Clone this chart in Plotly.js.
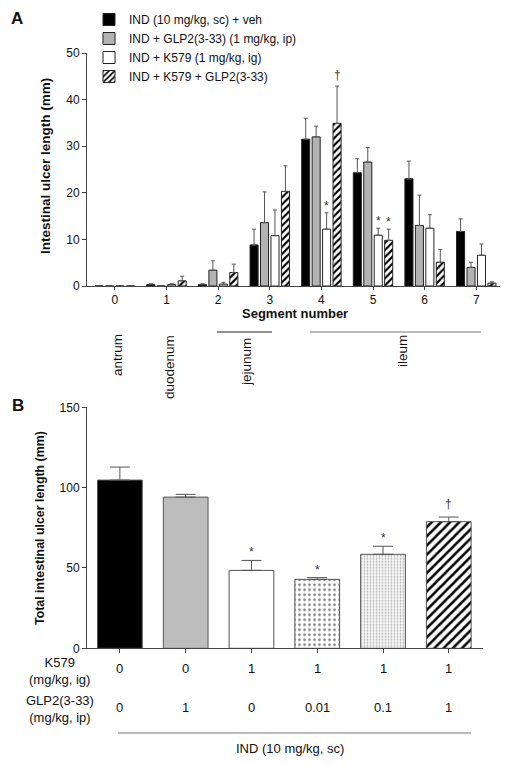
<!DOCTYPE html>
<html>
<head>
<meta charset="utf-8">
<script src="https://cdn.plot.ly/plotly-3.0.1.min.js"></script>
<style>html,body{margin:0;padding:0;background:#fff;}#chart{width:512px;height:766px;}</style>
</head>
<body>
<div id="chart"></div>
<script>
// ---------- Panel A data ----------
const segments = [0, 1, 2, 3, 4, 5, 6, 7];
const seriesNames = ['IND (10 mg/kg, sc) + veh', 'IND + GLP2(3-33) (1 mg/kg, ip)', 'IND + K579 (1 mg/kg, ig)', 'IND + K579 + GLP2(3-33)'];
const indVeh      = [0, 0.3, 0.3, 8.8, 31.5, 24.3, 23.0, 11.7];
const indVehErr   = [0, 0.2, 0.2, 3.4, 4.5, 3.0, 3.8, 2.7];
const indGlp      = [0, 0, 3.4, 13.6, 32.0, 26.6, 13.0, 4.0];
const indGlpErr   = [0, 0, 2.0, 6.6, 2.3, 3.1, 6.5, 1.1];
const indK579     = [0, 0.3, 0.4, 10.8, 12.2, 10.9, 12.4, 6.6];
const indK579Err  = [0, 0.2, 0.4, 5.5, 3.5, 1.5, 2.9, 2.4];
const indK579Glp  = [0, 1.1, 2.9, 20.3, 34.9, 9.8, 5.1, 0.6];
const indK579GlpErr = [0, 1.0, 1.8, 5.5, 8.0, 2.4, 2.7, 0.3];
// significance marks in panel A: [series index, segment, symbol]
const marksA = [[2, 4, '*'], [3, 4, '†'], [2, 5, '*'], [3, 5, '*']];
const regions = ['antrum', 'duodenum', 'jejunum', 'ileum'];

// ---------- Panel B data ----------
const groupsB = ['IND+veh', 'IND+GLP2', 'IND+K579', 'IND+K579+GLP2 0.01', 'IND+K579+GLP2 0.1', 'IND+K579+GLP2 1'];
const totalUlcer    = [104.7, 94.1, 48.5, 42.9, 58.5, 78.8];
const totalUlcerErr = [8.1, 1.7, 6.2, 1.1, 5.0, 2.9];
const marksB = ['', '', '*', '*', '*', '†'];
const k579Dose = ['0', '0', '1', '1', '1', '1'];
const glp2Dose = ['0', '1', '0', '0.01', '0.1', '1'];

// ---------- helpers ----------
const W = 512, H = 766;
const px = x => x / W;
const py = y => 1 - y / H;
const FONT = 'Liberation Sans, Arial, sans-serif';
const AX = '#444';

const BARGAP = 0.19, BARGROUPGAP = 0.23;
const slot = (1 - BARGAP) / 4;
const slotOffset = i => -(1 - BARGAP) / 2 + slot * (i + 0.5);

const valsA = [indVeh, indGlp, indK579, indK579Glp];
const errsA = [indVehErr, indGlpErr, indK579Err, indK579GlpErr];
const styleA = [
  {color: '#000000', pattern: {shape: ''}},
  {color: '#b3b3b3', pattern: {shape: ''}},
  {color: '#ffffff', pattern: {shape: ''}},
  {color: '#ffffff', pattern: {shape: '/', fgcolor: '#000', bgcolor: '#fff', size: 5, solidity: 0.42}}
];

const traces = valsA.map((v, i) => ({
  type: 'bar', x: segments, y: v, name: seriesNames[i],
  xaxis: 'x', yaxis: 'y',
  marker: {color: styleA[i].color, pattern: styleA[i].pattern, line: {color: '#222', width: 1}},
  error_y: {type: 'data', array: errsA[i], visible: true, symmetric: false, arrayminus: v.map(() => 0),
            color: '#555', thickness: 1, width: 2},
  showlegend: true
}));

const styleB = [
  {color: '#000000', pattern: {shape: ''}},
  {color: '#bdbdbd', pattern: {shape: ''}},
  {color: '#ffffff', pattern: {shape: ''}},
  {color: '#ffffff', pattern: {shape: '.', fgcolor: '#777777', bgcolor: '#ffffff', size: 5, solidity: 0.2}},
  {color: '#ffffff', pattern: {shape: '.', fgcolor: '#b0b0b0', bgcolor: '#fbfbfb', size: 3, solidity: 0.3}},
  {color: '#ffffff', pattern: {shape: '/', fgcolor: '#000', bgcolor: '#ffffff', size: 6.5, solidity: 0.38}}
];
groupsB.forEach((g, i) => {
  traces.push({
    type: 'bar', x: [g], y: [totalUlcer[i]], xaxis: 'x2', yaxis: 'y2', width: 0.68, offset: -0.34, showlegend: false,
    marker: {color: styleB[i].color, pattern: styleB[i].pattern, line: {color: '#555', width: 1}},
    error_y: {type: 'data', array: [totalUlcerErr[i]], visible: true, symmetric: false, arrayminus: [0],
              color: '#555', thickness: 1, width: 10}
  });
});

const ann = [];
const txt = (text, x, y, o) => Object.assign({text, x: px(x), y: py(y), xref: 'paper', yref: 'paper', showarrow: false,
  xanchor: 'center', yanchor: 'middle', font: {family: FONT, size: 13, color: '#111'}}, o || {});

ann.push(txt('<b>A</b>', 17, 18, {font: {family: FONT, size: 17, color: '#111'}}));
ann.push(txt('<b>B</b>', 18, 405, {font: {family: FONT, size: 17, color: '#111'}}));
ann.push(txt('<b>Intestinal ulcer length (mm)</b>', 46, 166, {textangle: -90, font: {family: FONT, size: 13.5, color: '#111'}}));
ann.push(txt('<b>Segment number</b>', 295, 313, {font: {family: FONT, size: 13, color: '#111'}}));
ann.push(txt('<b>Total intestinal ulcer length (mm)</b>', 40, 528, {textangle: -90, font: {family: FONT, size: 12.4, color: '#111'}}));

// region labels (rotated)
const regionX = [117, 169, 246, 402];
const regionY = [355, 367, 362, 351];
regions.forEach((r, i) => ann.push(txt(r, regionX[i], regionY[i], {textangle: -90, font: {family: FONT, size: 13.5, color: '#111'}})));

// significance marks panel A
marksA.forEach(([s, seg, sym]) => {
  ann.push({text: sym, x: seg + slotOffset(s), y: valsA[s][seg] + errsA[s][seg], xref: 'x', yref: 'y',
    showarrow: false, xanchor: 'center', yanchor: 'bottom', yshift: sym === '*' ? -2 : 2, font: {family: FONT, size: 12, color: '#333'}});
});
// significance marks panel B
marksB.forEach((sym, i) => {
  if (!sym) return;
  ann.push({text: sym, x: groupsB[i], y: totalUlcer[i] + totalUlcerErr[i], xref: 'x2', yref: 'y2',
    showarrow: false, xanchor: 'center', yanchor: 'bottom', yshift: sym === '*' ? -1 : 4, font: {family: FONT, size: 12, color: '#333'}});
});
// dose table
ann.push(txt('K579<br>(mg/kg, ig)', 59, 671));
ann.push(txt('GLP2(3-33)<br>(mg/kg, ip)', 60, 709));
groupsB.forEach((g, i) => {
  ann.push({text: k579Dose[i], x: g, y: py(668), xref: 'x2', yref: 'paper', showarrow: false, xanchor: 'center', yanchor: 'middle', font: {family: FONT, size: 13, color: '#111'}});
  ann.push({text: glp2Dose[i], x: g, y: py(707), xref: 'x2', yref: 'paper', showarrow: false, xanchor: 'center', yanchor: 'middle', font: {family: FONT, size: 13, color: '#111'}});
});
ann.push(txt('IND (10 mg/kg, sc)', 290, 748));

const shapes = [
  {type: 'line', xref: 'paper', yref: 'paper', x0: px(217), x1: px(272), y0: py(332), y1: py(332), line: {color: '#222', width: 1}},
  {type: 'line', xref: 'paper', yref: 'paper', x0: px(310), x1: px(481), y0: py(332), y1: py(332), line: {color: '#777', width: 1.2}},
  {type: 'line', xref: 'paper', yref: 'paper', x0: px(118), x1: px(471), y0: py(733), y1: py(733), line: {color: '#777', width: 1.2}}
];

const axisCommon = {showline: true, linecolor: AX, linewidth: 1, ticks: 'outside', tickcolor: AX, ticklen: 4,
  showgrid: false, zeroline: false, tickfont: {family: FONT, size: 12, color: '#111'}};

const layout = {
  width: W, height: H, margin: {l: 0, r: 0, t: 0, b: 0}, paper_bgcolor: '#fff', plot_bgcolor: '#fff',
  barmode: 'group', bargap: BARGAP, bargroupgap: BARGROUPGAP,
  font: {family: FONT, color: '#111'},
  showlegend: true,
  legend: {x: px(89), y: py(5), xanchor: 'left', yanchor: 'top', bgcolor: 'rgba(0,0,0,0)', borderwidth: 0,
    font: {family: FONT, size: 12, color: '#111'}, traceorder: 'normal', tracegroupgap: 0},
  xaxis: Object.assign({}, axisCommon, {domain: [px(87), px(500)], range: [-0.54, 7.46], tickvals: segments, ticklen: 3, anchor: 'y'}),
  yaxis: Object.assign({}, axisCommon, {domain: [py(286), py(53)], range: [0, 50], tickvals: [0, 10, 20, 30, 40, 50], anchor: 'x'}),
  xaxis2: Object.assign({}, axisCommon, {domain: [px(87), px(483)], range: [-0.5, 5.52], type: 'category', categoryarray: groupsB, showticklabels: false, anchor: 'y2'}),
  yaxis2: Object.assign({}, axisCommon, {domain: [py(648.3), py(407.3)], range: [0, 150], tickvals: [0, 50, 100, 150], anchor: 'x2'}),
  annotations: ann,
  shapes: shapes
};

Plotly.newPlot('chart', traces, layout, {staticPlot: true, displayModeBar: false});
</script>
</body>
</html>
